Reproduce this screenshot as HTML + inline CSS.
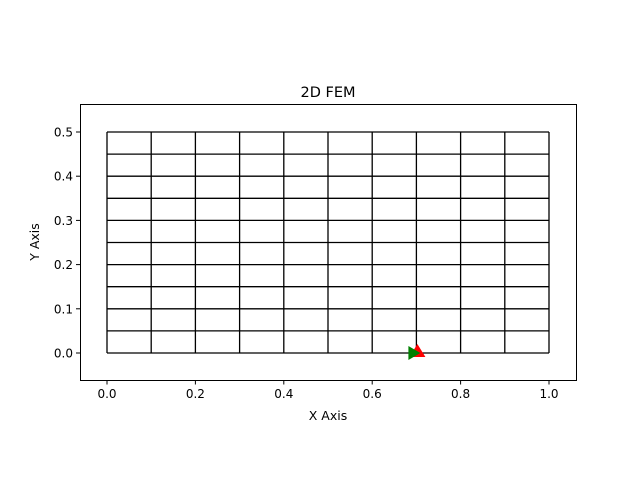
<!DOCTYPE html>
<html><head><meta charset="utf-8"><style>body{margin:0;background:#fff}svg{display:block;font-family:"DejaVu Sans","Liberation Sans",sans-serif}</style></head>
<body>
<svg id="c" width="640" height="480"></svg>
<script>
const xTicks=[0.0,0.2,0.4,0.6,0.8,1.0];
const yTicks=[0.0,0.1,0.2,0.3,0.4,0.5];
const meshX=[0,0.1,0.2,0.3,0.4,0.5,0.6,0.7,0.8,0.9,1.0];
const meshY=[0,0.05,0.1,0.15,0.2,0.25,0.3,0.35,0.4,0.45,0.5];
const markerRed=[0.7,0];
const markerGreen=[0.7,0];
const NS='http://www.w3.org/2000/svg';
const svg=document.getElementById('c');
const X=v=>107+v*442, Y=v=>353-v*442;
function mk(t,a,p){const e=document.createElementNS(NS,t);for(const k in a)e.setAttribute(k,a[k]);(p||svg).appendChild(e);return e;}
let e;
e=mk('rect',{x:80.5,y:104.5,width:496,height:276,fill:'none',stroke:'#000','stroke-width':1});


const g=mk('g',{stroke:'#000','stroke-width':1.3,fill:'none'});


meshX.forEach(v=>{e=mk('line',{x1:X(v),x2:X(v),y1:Y(0),y2:Y(0.5)},g);});
meshY.forEach(v=>{e=mk('line',{x1:X(0),x2:X(1),y1:Y(v),y2:Y(v)},g);});
xTicks.forEach(v=>{mk('line',{x1:X(v),x2:X(v),y1:380.5,y2:384.5,stroke:'#000'});
e=mk('text',{x:X(v),y:398,'text-anchor':'middle','font-size':12});e.textContent=v.toFixed(1);
});
yTicks.forEach(v=>{mk('line',{x1:76,x2:80.5,y1:Y(v),y2:Y(v),stroke:'#000'});
e=mk('text',{x:73,y:Y(v)+4.5,'text-anchor':'end','font-size':12});e.textContent=v.toFixed(1);
});
const rx=X(markerRed[0])+1,ry=Y(markerRed[1]);
e=mk('polygon',{points:`${rx},${ry-9} ${rx+8},${ry+4} ${rx-8},${ry+4}`,fill:'red'});

const gx=X(markerGreen[0])-3,gy=Y(markerGreen[1]);
e=mk('polygon',{points:`${gx+7},${gy} ${gx-5},${gy-7} ${gx-5},${gy+7}`,fill:'green'});

e=mk('text',{x:328,y:97,'text-anchor':'middle','font-size':14.5});e.textContent='2D FEM';

e=mk('text',{x:328,y:420,'text-anchor':'middle','font-size':12.5});e.textContent='X Axis';

e=mk('text',{x:0,y:0,'text-anchor':'middle','font-size':12.5,transform:'translate(39,242) rotate(-90)'});e.textContent='Y Axis';

</script>
</body></html>
